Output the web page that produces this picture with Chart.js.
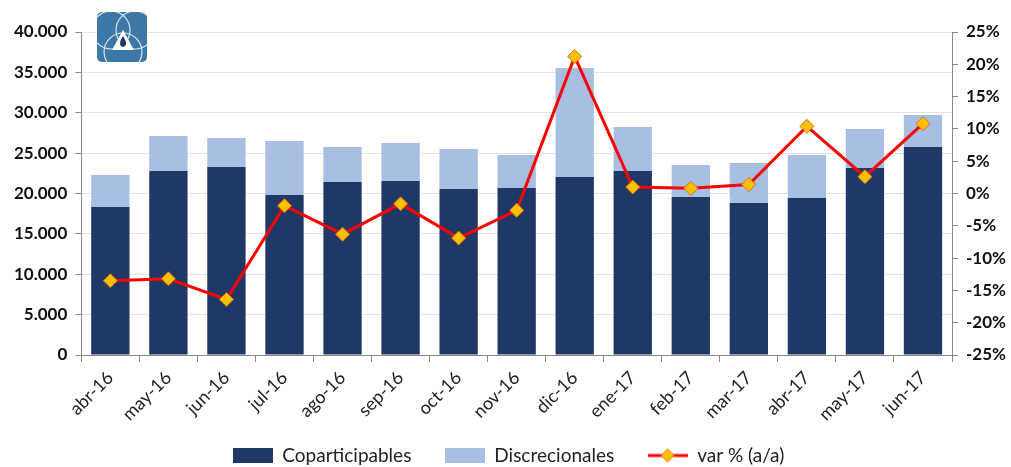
<!DOCTYPE html>
<html><head><meta charset="utf-8">
<script src="https://cdn.jsdelivr.net/npm/chart.js@4.4.1/dist/chart.umd.min.js"></script>
<style>
html,body{margin:0;padding:0;background:#fff;}
#wrap{position:relative;width:1011px;height:467px;}
#logo{position:absolute;left:97px;top:12px;width:50px;height:50px;}
</style></head><body>
<div id="wrap">
<canvas id="c" width="1011" height="467"></canvas>
<svg id="logo" viewBox="0 0 50 50">
<rect x="0" y="0" width="50" height="50" rx="5" fill="#3d77a6"/>
<circle cx="14" cy="18" r="19" fill="none" stroke="#d8e6f2" stroke-width="1.2"/>
<circle cx="38" cy="18" r="19" fill="none" stroke="#d8e6f2" stroke-width="1.2"/>
<circle cx="26" cy="40" r="19" fill="none" stroke="#d8e6f2" stroke-width="1.2"/>
<path d="M15 38 L26 18 L37 38 Z" fill="#ffffff"/>
<path d="M26 24 C22 30 22 34 26 35 C30 34 30 30 26 24 Z" fill="#1f3a60"/>
</svg>
</div>
<script>
const categories = ["abr-16","may-16","jun-16","jul-16","ago-16","sep-16","oct-16","nov-16","dic-16","ene-17","feb-17","mar-17","abr-17","may-17","jun-17"];
const coparticipables = [18330,22790,23280,19810,21420,21550,20560,20680,22040,22790,19570,18820,19440,23160,25760];
const totals = [22290,27120,26870,26500,25760,26250,25510,24770,35540,28240,23530,23780,24770,27990,29720];
const discrecionales = totals.map((t,i)=>t-coparticipables[i]);
const varPct = [-13.5,-13.2,-16.4,-1.9,-6.3,-1.6,-6.9,-2.6,21.2,1.0,0.8,1.4,10.4,2.6,10.8];

const DARK = "#1f3866", LIGHT = "#a8bee3", RED = "#ff0000", GOLD = "#ffc000", ORANGE = "#e46c0a";

function boxImg(color){
  const c = document.createElement("canvas"); c.width = 40; c.height = 15;
  const x = c.getContext("2d"); x.fillStyle = color; x.fillRect(0,0,40,15); return c;
}
function lineImg(){
  const c = document.createElement("canvas"); c.width = 40; c.height = 16;
  const x = c.getContext("2d");
  x.strokeStyle = RED; x.lineWidth = 3; x.beginPath(); x.moveTo(0,8); x.lineTo(40,8); x.stroke();
  x.fillStyle = GOLD; x.strokeStyle = ORANGE; x.lineWidth = 1;
  x.beginPath(); x.moveTo(20,1.5); x.lineTo(26.5,8); x.lineTo(20,14.5); x.lineTo(13.5,8); x.closePath(); x.fill(); x.stroke();
  return c;
}
const legendImgs = [boxImg(DARK), boxImg(LIGHT), lineImg()];
const legendPad = ["    ", "    ", ""];
const FONT = "Lato, 'Open Sans', sans-serif";

new Chart(document.getElementById("c"), {
  data: {
    labels: categories,
    datasets: [
      {type:"bar", label:"Coparticipables", data:coparticipables, backgroundColor:DARK, yAxisID:"y", stack:"s", order:2, categoryPercentage:1, barPercentage:0.66},
      {type:"bar", label:"Discrecionales", data:discrecionales, backgroundColor:LIGHT, yAxisID:"y", stack:"s", order:2, categoryPercentage:1, barPercentage:0.66},
      {type:"line", label:"var % (a/a)", data:varPct, yAxisID:"y1", borderColor:RED, borderWidth:3, pointStyle:"rectRot", pointRadius:7, pointHoverRadius:7, pointBackgroundColor:GOLD, pointBorderColor:ORANGE, pointBorderWidth:1, tension:0, order:0}
    ]
  },
  options: {
    responsive:false, animation:false,
    layout:{padding:{top:32,right:0,left:6,bottom:0}},
    plugins:{
      tooltip:{enabled:false},
      legend:{
        position:"bottom", maxHeight:35,
        labels:{
          usePointStyle:true, pointStyleWidth:40, padding:14, color:"#222",
          font:{family:FONT, size:19},
          generateLabels(chart){
            return chart.data.datasets.map((d,i)=>({text:d.label + legendPad[i], pointStyle:legendImgs[i], datasetIndex:i, hidden:false, fontColor:"#222", lineWidth:0, strokeStyle:"transparent", fillStyle:"transparent"}));
          }
        }
      }
    },
    scales:{
      x:{
        stacked:true,
        grid:{display:true, offset:true, drawOnChartArea:false, drawTicks:true, tickLength:7, color:"#888"},
        border:{display:true, color:"#888"},
        ticks:{maxRotation:45, minRotation:45, color:"#222", font:{family:FONT, size:18}, padding:5},
        afterFit(s){ s.height = 77; }
      },
      y:{
        position:"left", stacked:true, min:0, max:40000,
        ticks:{stepSize:5000, color:"#111", font:{family:FONT, size:17, weight:"bold"}, padding:8,
          callback:v=>v.toLocaleString("de-DE")},
        grid:{color:"#e3e3e3", tickLength:6, tickColor:"#888"},
        border:{display:true, color:"#888"}
      },
      y1:{
        position:"right", min:-25, max:25,
        ticks:{stepSize:5, color:"#111", font:{family:FONT, size:17, weight:"bold"}, padding:8,
          callback:v=>v+"%"},
        grid:{drawOnChartArea:false, tickLength:6, tickColor:"#888"},
        border:{display:true, color:"#888"},
        afterFit(s){ s.width = 59; }
      }
    }
  }
});
</script>
</body></html>
